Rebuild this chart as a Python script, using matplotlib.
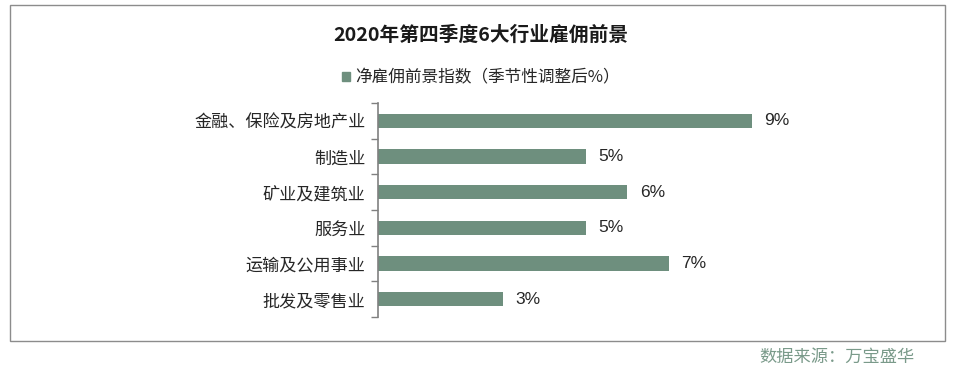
import numpy as np
import matplotlib
matplotlib.use('Agg')
import matplotlib.pyplot as plt
from matplotlib.patches import Rectangle, Patch

plt.rcParams['font.family'] = ['Noto Sans CJK SC', 'DejaVu Sans']

categories = ['金融、保险及房地产业', '制造业', '矿业及建筑业', '服务业', '运输及公用事业', '批发及零售业']
values = [9, 5, 6, 5, 7, 3]
value_labels = ['9%', '5%', '6%', '5%', '7%', '3%']
title = '2020年第四季度6大行业雇佣前景'
series_name = '净雇佣前景指数（季节性调整后%）'
source = '数据来源：万宝盛华'

bar_color = '#6e8f7e'
W, H = 961, 382

fig = plt.figure(figsize=(W / 100, H / 100), dpi=100)

# outer frame
fig.patches.append(Rectangle((10 / W, 1 - 341 / H), 935 / W, 336 / H,
                             transform=fig.transFigure, fill=False,
                             edgecolor='#8c8c8c', linewidth=1.0))

ax = fig.add_axes([378 / W, 1 - 317 / H, 415.6 / W, 214 / H])
y = np.arange(len(categories))
ax.barh(y, values, height=0.4, color=bar_color)
ax.set_xlim(0, 10)
ax.set_ylim(len(categories) - 0.5, -0.5)

for yi, v, lab in zip(y, values, value_labels):
    ax.text(v + 0.3, yi, lab, va='center', ha='left', fontsize=12.5,
            color='#262626', family=['Liberation Sans', 'DejaVu Sans'])

ax.set_yticks(y)
ax.set_yticklabels(categories, fontsize=12.3, color='#262626')
ax.tick_params(axis='y', which='major', length=0, pad=9)
ax.set_yticks(np.arange(-0.5, len(categories), 1), minor=True)
ax.tick_params(axis='y', which='minor', length=5, color='#808080', width=1)
ax.set_xticks([])
for s in ['top', 'right', 'bottom']:
    ax.spines[s].set_visible(False)
ax.spines['left'].set_color('#808080')
ax.spines['left'].set_linewidth(1.2)

fig.text(481 / W, 1 - 35 / H, title, ha='center', va='center',
         fontsize=14.2, fontweight='bold', color='#1a1a1a')

fig.legend(handles=[Patch(color=bar_color)], labels=[series_name],
           loc='center', bbox_to_anchor=(481 / W, 1 - 78 / H),
           frameon=False, fontsize=12, handlelength=0.5, handleheight=0.5,
           handletextpad=0.3, labelcolor='#262626')

fig.text(915 / W, 1 - 357 / H, source, ha='right', va='center',
         fontsize=12.4, color='#7a9a8a')

fig.savefig('out.png', dpi=100)
